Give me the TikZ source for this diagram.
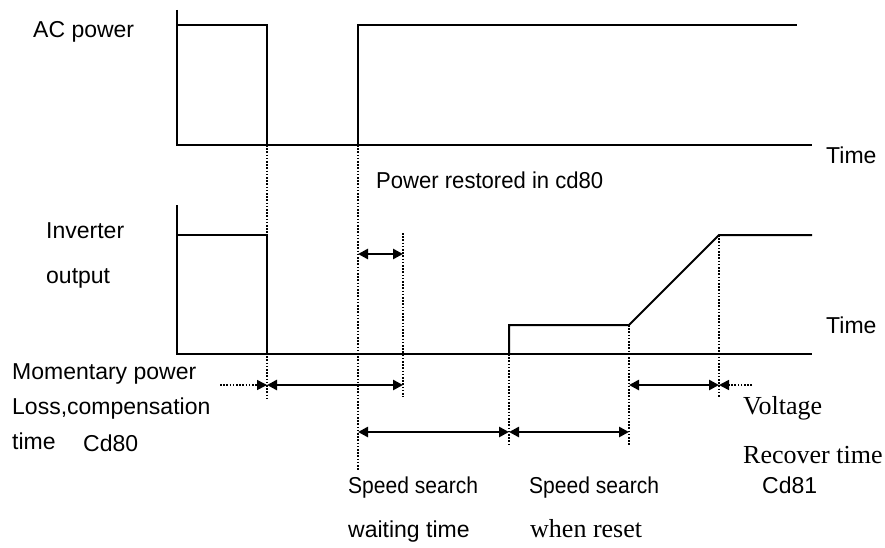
\documentclass[tikz,border=0pt]{standalone}
\usepackage{fontspec}
\setmainfont{Liberation Serif}
\setsansfont{Liberation Sans}
\usetikzlibrary{arrows.meta}
\begin{document}
\begin{tikzpicture}[x=1pt,y=-1pt,
  sig/.style={line width=2pt},
  guide/.style={line width=1.6pt, dash pattern=on 1.6pt off 1.6pt},
  meas/.style={line width=2.8pt, {Triangle[length=10pt,width=10pt]}-{Triangle[length=10pt,width=10pt]}},
  tail/.style={line width=1.6pt, dash pattern=on 1.6pt off 1.6pt, -{Triangle[length=10pt,width=10pt]}},
  lbl/.style={anchor=base west, inner sep=0pt, font=\sffamily\fontsize{23}{27}\selectfont},
  slbl/.style={anchor=base west, inner sep=0pt, font=\rmfamily\fontsize{26}{29}\selectfont}]
\useasboundingbox (0,0) rectangle (885,548);
% AC power signal
\coordinate (a0) at (177,10);
\coordinate (a1) at (177,145);
\coordinate (a2) at (812,145);
\coordinate (ah0) at (177,25);
\coordinate (ah1) at (267,25);
\coordinate (ah2) at (267,145);
\coordinate (ar0) at (358,145);
\coordinate (ar1) at (358,25);
\coordinate (ar2) at (797,25);
\draw[sig] (a0) -- (a1) -- (a2);
\draw[sig] (ah0) -- (ah1) -- (ah2);
\draw[sig] (ar0) -- (ar1) -- (ar2);
% Inverter output signal
\coordinate (b0) at (177,205);
\coordinate (b1) at (177,354);
\coordinate (b2) at (812,354);
\coordinate (bh0) at (177,235);
\coordinate (bh1) at (267,235);
\coordinate (bh2) at (267,354);
\coordinate (s0) at (509,354);
\coordinate (s1) at (509,325);
\coordinate (s2) at (629,325);
\coordinate (s3) at (719,235);
\coordinate (s4) at (812,235);
\draw[sig] (b0) -- (b1) -- (b2);
\draw[sig] (bh0) -- (bh1) -- (bh2);
\draw[sig] (s0) -- (s1) -- (s2) -- (s3) -- (s4);
% guide lines
\coordinate (g1b) at (267,400);
\coordinate (g2b) at (358,470);
\coordinate (g3t) at (403,233);
\coordinate (g3b) at (403,397);
\coordinate (g4b) at (509,445);
\coordinate (g5b) at (629,445);
\coordinate (g6b) at (719,398);
\draw[guide] (ah2) -- (g1b);
\draw[guide] (ar0) -- (g2b);
\draw[guide] (g3t) -- (g3b);
\draw[guide] (s0) -- (g4b);
\draw[guide] (s2) -- (g5b);
\draw[guide] (s3) -- (g6b);
% measurement arrows
\coordinate (m1a) at (358,254);
\coordinate (m1b) at (403,254);
\draw[meas] (m1a) -- (m1b);
\coordinate (t1) at (220,385);
\coordinate (m2a) at (267,385);
\coordinate (m2b) at (403,385);
\draw[tail] (t1) -- (m2a);
\draw[meas] (m2a) -- (m2b);
\coordinate (m3a) at (358,432);
\coordinate (m3b) at (509,432);
\coordinate (m3c) at (629,432);
\draw[meas] (m3a) -- (m3b);
\draw[meas] (m3b) -- (m3c);
\coordinate (m4a) at (629,385);
\coordinate (m4b) at (719,385);
\coordinate (t2) at (752,385);
\draw[meas] (m4a) -- (m4b);
\draw[tail] (t2) -- (m4b);
% labels
\node[lbl] (lac) at (33,38) {AC power};
\node[lbl] (ltime1) at (826,164) {Time};
\node[lbl] (lrest) at (376,188) {\scalebox{0.96}[1]{Power restored in cd80}};
\node[lbl] (linv) at (46,238) {Inverter};
\node[lbl] (lout) at (46,283) {output};
\node[lbl] (ltime2) at (826,333) {Time};
\node[lbl] (lmom) at (12,379) {Momentary power};
\node[lbl] (lloss) at (12,414) {Loss,compensation};
\node[lbl] (ltime) at (12,449) {time};
\node[lbl] (lcd80) at (83,451) {Cd80};
\node[lbl] (lss1) at (348,493) {\scalebox{0.915}[1]{Speed search}};
\node[lbl] (lwait) at (348,537) {waiting time};
\node[lbl] (lss2) at (529,493) {\scalebox{0.915}[1]{Speed search}};
\node[slbl] (lwhen) at (530,537) {when reset};
\node[slbl] (lvolt) at (743,414) {Voltage};
\node[slbl] (lrec) at (743,463) {Recover time};
\node[lbl] (lcd81) at (762,493) {Cd81};
\end{tikzpicture}
\end{document}
